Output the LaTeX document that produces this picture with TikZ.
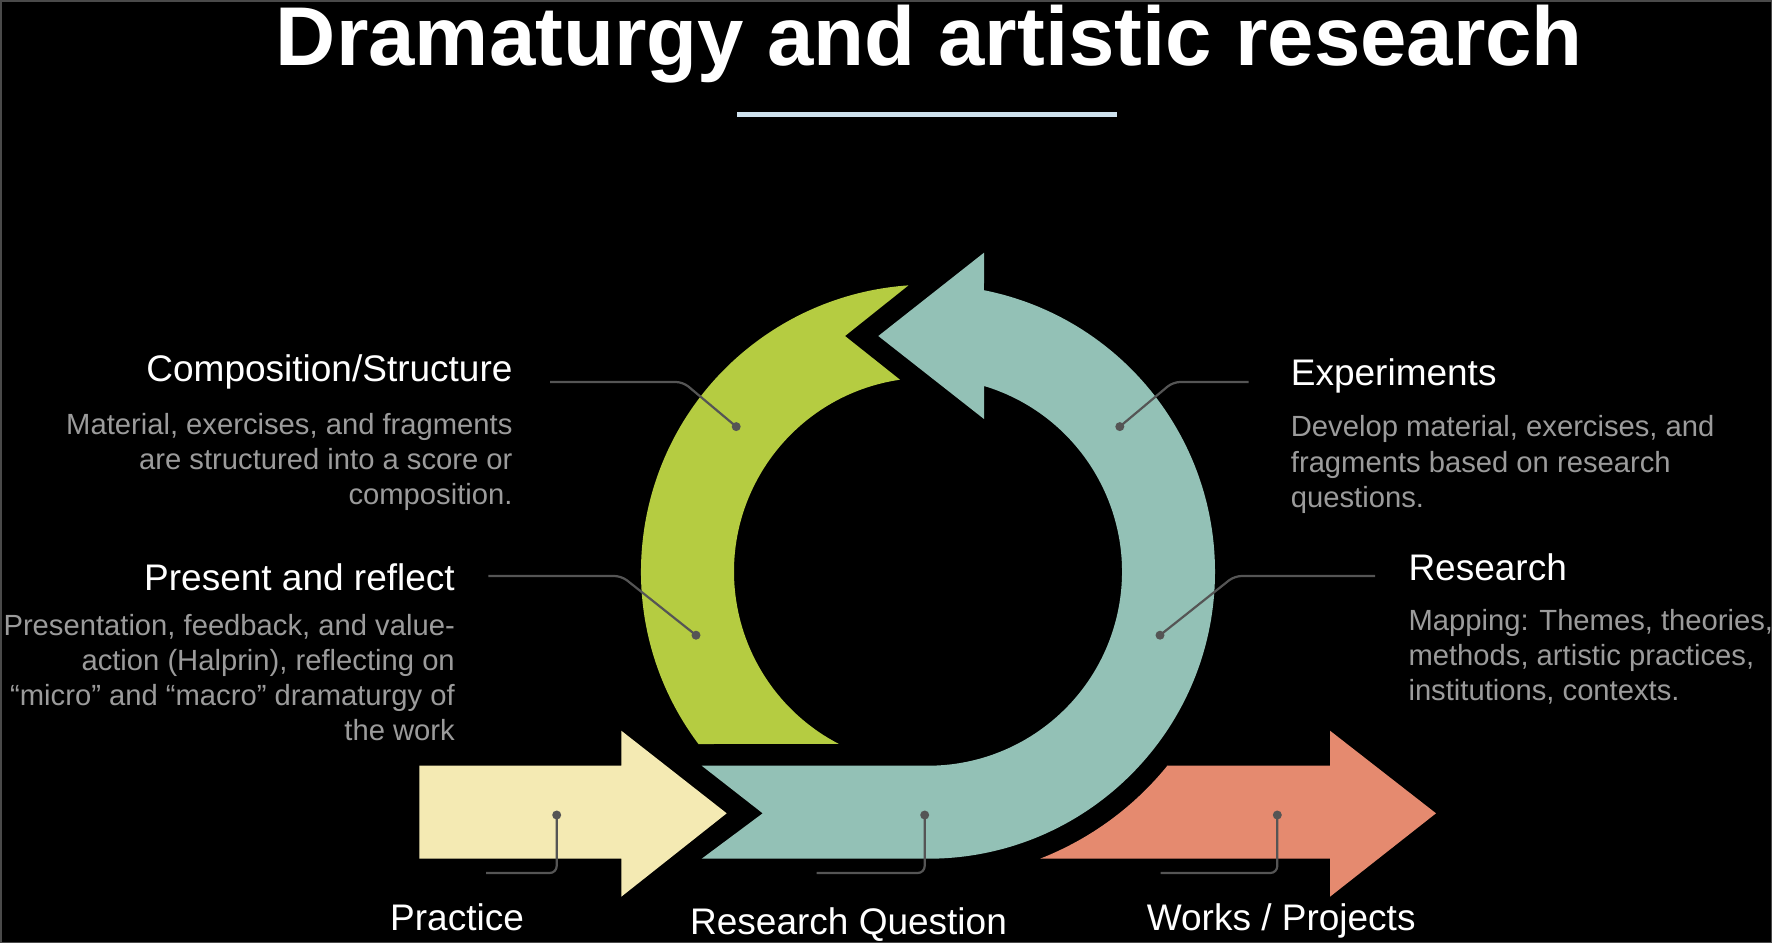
\documentclass[tikz,border=0pt]{standalone}
\usepackage{fontspec}
\setmainfont{Liberation Sans}
\definecolor{ringgreen}{HTML}{B5CC41}
\definecolor{ringteal}{HTML}{93C1B6}
\definecolor{practiceyellow}{HTML}{F4EAB3}
\definecolor{workssalmon}{HTML}{E58A6F}
\definecolor{leadergray}{HTML}{555555}
\definecolor{bodygray}{HTML}{9B9B9B}
\definecolor{barblue}{HTML}{CFE2EE}
\definecolor{framegray}{HTML}{4A4A4A}
\begin{document}
\begin{tikzpicture}[x=1pt,y=-1pt,
  titlefont/.style={text=white, font=\fontsize{83.4}{90}\selectfont\bfseries, inner sep=0pt},
  heading/.style={text=white, font=\fontsize{37}{44}\selectfont, inner sep=0pt},
  body/.style={text=bodygray, font=\fontsize{29.2}{35.3}\selectfont, inner sep=0pt},
  leader/.style={draw=leadergray, line width=2.2pt, rounded corners=7pt},
  leaderdot/.style={circle, fill=leadergray, inner sep=0pt, minimum size=9pt},
  bandfill/.style={fill=#1},
]
% background
\fill[black] (0,0) rectangle (1772,943);
\draw[framegray, line width=1.5pt] (0.75,0.75) rectangle (1771.25,942.25);
\useasboundingbox (0,0) rectangle (1772,943);

% title
\node[titlefont, anchor=base] (title) at (929.5,65) {Dramaturgy and artistic research};
\coordinate (barL) at (737,114);
\coordinate (barR) at (1117,114);
\draw[barblue, line width=5pt] (barL) -- (barR);

% green arc (Composition / Present)
\fill[bandfill=ringgreen] (698.47,744) arc[start angle=143.1, end angle=266.1, radius=287]
  -- (845,336) -- (900.0,379.7) arc[start angle=261.7, end angle=117.4, radius=194] -- cycle;

% teal arc (Research Question / Research / Experiments)
\fill[bandfill=ringteal] (984,252.7) -- (878.3,336) -- (984,419) -- (984,385.96)
  arc[start angle=-73.22, end angle=90, radius=194]
  -- (701.7,765.7) -- (762.7,813.3) -- (701.7,858.7) -- (928,858.7)
  arc[start angle=90, end angle=-78.75, radius=287] -- cycle;

% practice arrow
\fill[bandfill=practiceyellow] (419.3,765.7) -- (621.3,765.7) -- (621.3,730.7) -- (726.7,813.3)
  -- (621.3,896.7) -- (621.3,858.7) -- (419.3,858.7) -- cycle;

% works arrow
\fill[bandfill=workssalmon] (1166.9,765.7) -- (1330,765.7) -- (1330,730.7) -- (1436,813.3)
  -- (1330,896.7) -- (1330,858.7) -- (1040,858.7) arc[start angle=68.7, end angle=39.1, radius=308] -- cycle;

% leader coordinates
\coordinate (pComp) at (736.2,426.6);
\coordinate (kComp) at (683,382);
\coordinate (lComp) at (550,382);
\coordinate (pExp) at (1119.8,426.6);
\coordinate (kExp) at (1173,382);
\coordinate (lExp) at (1248.7,382);
\coordinate (pPres) at (696.0,635.2);
\coordinate (kPres) at (621.5,576);
\coordinate (lPres) at (488.3,576);
\coordinate (pRes) at (1160.0,635.2);
\coordinate (kRes) at (1234.5,576);
\coordinate (lRes) at (1375,576);
\coordinate (pPrac) at (556.7,815);
\coordinate (kPrac) at (556.7,873);
\coordinate (lPrac) at (486,873);
\coordinate (pRQ) at (924.7,815);
\coordinate (kRQ) at (924.7,873);
\coordinate (lRQ) at (816.7,873);
\coordinate (pWorks) at (1277.3,815);
\coordinate (kWorks) at (1277.3,873);
\coordinate (lWorks) at (1160.7,873);

\draw[leader] (lComp) -- (kComp) -- (pComp);
\draw[leader] (lExp) -- (kExp) -- (pExp);
\draw[leader] (lPres) -- (kPres) -- (pPres);
\draw[leader] (lRes) -- (kRes) -- (pRes);
\draw[leader] (lPrac) -- (kPrac) -- (pPrac);
\draw[leader] (lRQ) -- (kRQ) -- (pRQ);
\draw[leader] (lWorks) -- (kWorks) -- (pWorks);

\node[leaderdot] (dComp) at (pComp) {};
\node[leaderdot] (dExp) at (pExp) {};
\node[leaderdot] (dPres) at (pPres) {};
\node[leaderdot] (dRes) at (pRes) {};
\node[leaderdot] (dPrac) at (pPrac) {};
\node[leaderdot] (dRQ) at (pRQ) {};
\node[leaderdot] (dWorks) at (pWorks) {};

% left texts
\node[heading, anchor=base east] (hComp) at (512.7,381.7) {Composition/Structure};
\node[body, anchor=base east] (bComp) at (512.7,434.3) {\begin{tabular}[t]{@{}r@{}}Material, exercises, and fragments\\ are structured into a score or\\ composition.\end{tabular}};
\node[heading, anchor=base east] (hPres) at (455,590.7) {Present and reflect};
\node[body, anchor=base east] (bPres) at (455,635) {\begin{tabular}[t]{@{}r@{}}Presentation, feedback, and value-\\ action (Halprin), reflecting on\\ “micro” and “macro” dramaturgy of\\ the work\end{tabular}};

% right texts
\node[heading, anchor=base west] (hExp) at (1290.7,385) {Experiments};
\node[body, anchor=base west] (bExp) at (1290.7,436.7) {\begin{tabular}[t]{@{}l@{}}Develop material, exercises, and\\ fragments based on research\\ questions.\end{tabular}};
\node[heading, anchor=base west] (hRes) at (1408.3,580.7) {Research};
\node[body, anchor=base west] (bRes) at (1408.3,630) {\begin{tabular}[t]{@{}l@{}}Mapping: Themes, theories,\\ methods, artistic practices,\\ institutions, contexts.\end{tabular}};

% bottom labels
\node[heading, anchor=base west] (hPrac) at (390,930) {Practice};
\node[heading, anchor=base west] (hRQ) at (690,934) {Research Question};
\node[heading, anchor=base west] (hWorks) at (1146.7,930) {Works / Projects};
\end{tikzpicture}
\end{document}
